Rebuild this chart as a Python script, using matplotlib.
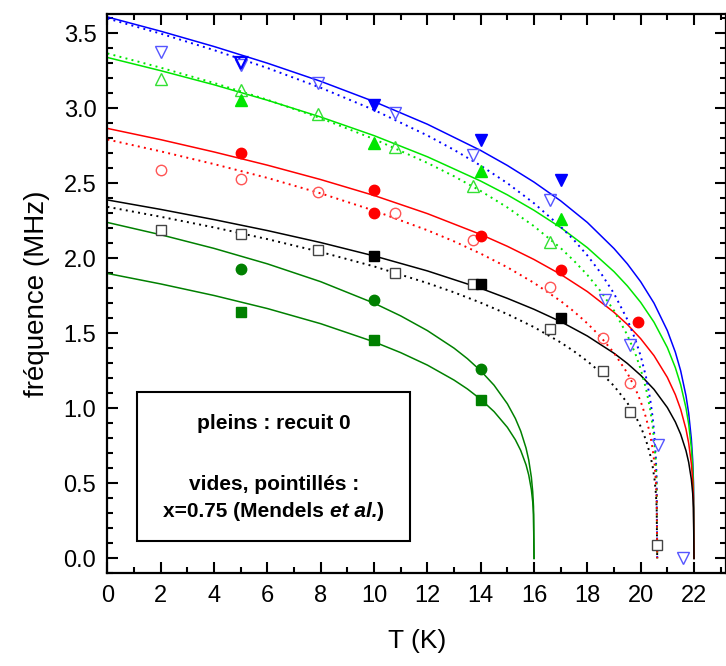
import numpy as np
import matplotlib.pyplot as plt
from matplotlib.patches import Rectangle
from matplotlib.ticker import MultipleLocator

plt.rcParams['font.family'] = ['Liberation Sans', 'DejaVu Sans']

# couleurs
c_blue = '#0000ff'
c_lime = '#00e600'
c_red = '#ff0000'
c_black = '#000000'
c_dkgreen = '#008000'

# ---- points "recuit 0" (pleins) ----
T_blue_r0 = [5, 10, 14, 17]
f_blue_r0 = [3.30, 3.02, 2.79, 2.52]
T_lime_r0 = [5, 10, 14, 17]
f_lime_r0 = [3.055, 2.77, 2.58, 2.26]
T_red_r0 = [5, 10, 10, 14, 17, 19.9]
f_red_r0 = [2.70, 2.455, 2.30, 2.15, 1.92, 1.575]
T_black_r0 = [10, 14, 17]
f_black_r0 = [2.015, 1.83, 1.604]
T_dkg_circ = [5, 10, 14]
f_dkg_circ = [1.93, 1.72, 1.26]
T_dkg_sq = [5, 10, 14]
f_dkg_sq = [1.64, 1.455, 1.055]

# ---- points Mendels et al. x=0.75 (vides) ----
T_blue_m = [2, 5, 7.9, 10.8, 13.7, 16.6, 18.65, 19.6, 20.65, 21.6]
f_blue_m = [3.375, 3.29, 3.17, 2.97, 2.69, 2.39, 1.72, 1.42, 0.755, 0.0]
T_lime_m = [2, 5, 7.9, 10.8, 13.7, 16.6]
f_lime_m = [3.195, 3.12, 2.96, 2.74, 2.48, 2.11]
T_red_m = [2, 5, 7.9, 10.8, 13.7, 16.6, 18.6, 19.6]
f_red_m = [2.59, 2.533, 2.444, 2.30, 2.12, 1.81, 1.467, 1.167]
T_black_m = [2, 5, 7.9, 10.8, 13.7, 16.6, 18.6, 19.6, 20.6]
f_black_m = [2.19, 2.165, 2.055, 1.90, 1.83, 1.527, 1.25, 0.977, 0.089]

# ---- courbes d'ajustement recuit 0 (traits pleins), Tc = 22 K ----
T_fit22 = [0, 2, 4, 6, 8, 10, 12, 14, 15, 16, 17, 18, 19, 19.5, 20, 20.5, 21,
           21.3, 21.5, 21.7, 21.8, 21.9, 21.95, 21.98, 22]
f_blue_fit = [3.610, 3.515, 3.413, 3.302, 3.181, 3.046, 2.895, 2.720, 2.620, 2.509, 2.384, 2.240, 2.066,
              1.964, 1.845, 1.702, 1.519, 1.375, 1.251, 1.084, 0.968, 0.797, 0.657, 0.508, 0.0]
f_lime_fit = [3.340, 3.252, 3.158, 3.055, 2.943, 2.819, 2.678, 2.516, 2.424, 2.321, 2.206, 2.072, 1.912,
              1.817, 1.707, 1.575, 1.406, 1.272, 1.158, 1.003, 0.896, 0.738, 0.608, 0.470, 0.0]
f_red_fit = [2.867, 2.792, 2.710, 2.622, 2.526, 2.420, 2.299, 2.160, 2.081, 1.993, 1.894, 1.779, 1.641,
             1.560, 1.465, 1.352, 1.207, 1.092, 0.994, 0.861, 0.769, 0.633, 0.522, 0.404, 0.0]
f_black_fit = [2.390, 2.327, 2.259, 2.186, 2.106, 2.017, 1.917, 1.801, 1.734, 1.661, 1.579, 1.483, 1.368,
               1.300, 1.221, 1.127, 1.006, 0.910, 0.828, 0.718, 0.641, 0.528, 0.435, 0.336, 0.0]

# Tc = 16 K (vert foncé)
T_fit16 = [0, 2, 4, 6, 8, 10, 11, 12, 13, 13.5, 14, 14.5, 15, 15.3, 15.5, 15.7, 15.8, 15.9, 15.95, 15.98, 16]
f_dkg1_fit = [2.240, 2.158, 2.067, 1.964, 1.845, 1.702, 1.617, 1.519, 1.402, 1.332, 1.251, 1.155, 1.031,
              0.933, 0.849, 0.736, 0.657, 0.541, 0.445, 0.345, 0.0]
f_dkg2_fit = [1.900, 1.830, 1.753, 1.666, 1.565, 1.444, 1.372, 1.289, 1.189, 1.130, 1.061, 0.979, 0.874,
              0.791, 0.720, 0.624, 0.557, 0.459, 0.378, 0.292, 0.0]

# ---- courbes Mendels (pointillés), Tc = 20.6 K ----
T_dot = [0, 2, 4, 6, 8, 10, 12, 13, 14, 15, 16, 17, 17.5, 18, 18.5, 19, 19.5, 19.8, 20.0,
         20.2, 20.35, 20.45, 20.52, 20.57, 20.6, 20.62]
f_blue_dot = [3.600, 3.499, 3.389, 3.270, 3.138, 2.990, 2.820, 2.724, 2.619, 2.502, 2.368, 2.212, 2.122,
              2.020, 1.904, 1.766, 1.593, 1.459, 1.350, 1.210, 1.069, 0.939, 0.810, 0.667, 0.516, 0.0]
f_lime_dot = [3.367, 3.272, 3.170, 3.058, 2.935, 2.796, 2.637, 2.548, 2.450, 2.340, 2.215, 2.069, 1.984,
              1.890, 1.781, 1.652, 1.489, 1.365, 1.262, 1.132, 1.000, 0.879, 0.757, 0.624, 0.483, 0.0]
f_red_dot = [2.793, 2.714, 2.629, 2.537, 2.434, 2.319, 2.188, 2.114, 2.032, 1.941, 1.837, 1.716, 1.646,
             1.567, 1.477, 1.370, 1.236, 1.132, 1.047, 0.939, 0.830, 0.729, 0.628, 0.517, 0.400, 0.0]
f_black_dot = [2.344, 2.278, 2.207, 2.129, 2.043, 1.947, 1.836, 1.774, 1.705, 1.629, 1.542, 1.440, 1.381,
               1.315, 1.240, 1.150, 1.037, 0.950, 0.879, 0.788, 0.696, 0.612, 0.527, 0.434, 0.336, 0.0]

fig = plt.figure(figsize=(7.26, 6.66), dpi=100)
ax = fig.add_axes([0.148, 0.139, 0.852, 0.840])

# traits pleins
for T, f, c in [(T_fit22, f_blue_fit, c_blue), (T_fit22, f_lime_fit, c_lime),
                (T_fit22, f_red_fit, c_red), (T_fit22, f_black_fit, c_black),
                (T_fit16, f_dkg1_fit, c_dkgreen), (T_fit16, f_dkg2_fit, c_dkgreen)]:
    ax.plot(T, f, '-', color=c, lw=1.1, zorder=2)

# pointillés
dot = (0, (1, 2.2))
for f, c in [(f_blue_dot, c_blue), (f_lime_dot, c_lime), (f_red_dot, c_red), (f_black_dot, c_black)]:
    ax.plot(T_dot, f, linestyle=dot, color=c, lw=1.4, zorder=2)

# symboles vides (Mendels)
ax.plot(T_blue_m, f_blue_m, 'v', ms=8.5, mfc='none', mec='#5555ff', mew=1.0, ls='none', zorder=3)
ax.plot(T_lime_m, f_lime_m, '^', ms=8.5, mfc='none', mec='#33e033', mew=1.0, ls='none', zorder=3)
ax.plot(T_red_m, f_red_m, 'o', ms=7.5, mfc='none', mec='#ff5555', mew=1.0, ls='none', zorder=3)
ax.plot(T_black_m, f_black_m, 's', ms=6.5, mfc='white', mec='#444444', mew=1.0, ls='none', zorder=3)

# symboles pleins (recuit 0)
ax.plot(T_blue_r0[:1], f_blue_r0[:1], 'v', ms=8.5, mfc='none', mec=c_blue, mew=1.6, ls='none', zorder=4)
ax.plot(T_blue_r0[1:], f_blue_r0[1:], 'v', ms=8.5, color=c_blue, ls='none', zorder=4)
ax.plot(T_lime_r0, f_lime_r0, '^', ms=8.5, color=c_lime, ls='none', zorder=4)
ax.plot(T_red_r0, f_red_r0, 'o', ms=7.5, color=c_red, ls='none', zorder=4)
ax.plot(T_black_r0, f_black_r0, 's', ms=6.5, color=c_black, ls='none', zorder=4)
ax.plot(T_dkg_circ, f_dkg_circ, 'o', ms=7.5, color=c_dkgreen, ls='none', zorder=4)
ax.plot(T_dkg_sq, f_dkg_sq, 's', ms=6.5, color=c_dkgreen, ls='none', zorder=4)

ax.set_xlim(0, 23.2)
ax.set_ylim(-0.1, 3.63)
ax.xaxis.set_major_locator(MultipleLocator(2))
ax.xaxis.set_minor_locator(MultipleLocator(1))
ax.yaxis.set_major_locator(MultipleLocator(0.5))
ax.yaxis.set_minor_locator(MultipleLocator(0.1))
ax.yaxis.set_major_formatter(plt.FuncFormatter(lambda v, p: f'{v:.1f}'))
ax.tick_params(which='both', direction='in', top=True, right=True, labelsize=17, width=1.5)
ax.tick_params(which='major', length=8, pad=8)
ax.tick_params(which='minor', length=4)
for s in ax.spines.values():
    s.set_linewidth(1.6)

ax.set_xlabel('T (K)', fontsize=19, labelpad=16)
ax.set_ylabel('fréquence (MHz)', fontsize=20, labelpad=10)

# cadre de légende
ax.add_patch(Rectangle((1.125, 0.117), 10.225, 0.993, fill=False, lw=1.5, ec='black', zorder=5))
xc = (1.125 + 11.35) / 2
fs = 15
ax.text(xc, 0.90, 'pleins : recuit 0', ha='center', va='center', fontsize=fs, weight='bold', zorder=6)
ax.text(xc, 0.49, 'vides, pointillés :', ha='center', va='center', fontsize=fs, weight='bold', zorder=6)

parts = [('x=0.75 (Mendels ', 'normal'), ('et al.', 'italic'), (')', 'normal')]
texts = [ax.text(0, 0.31, s, ha='left', va='center', fontsize=fs, weight='bold', style=st, zorder=6)
         for s, st in parts]
fig.canvas.draw()
r = fig.canvas.get_renderer()
inv = ax.transData.inverted()
widths = []
for t in texts:
    bb = t.get_window_extent(r)
    widths.append(inv.transform((bb.x1, 0))[0] - inv.transform((bb.x0, 0))[0])
x = xc - sum(widths) / 2
for t, w in zip(texts, widths):
    t.set_x(x)
    x += w

fig.savefig('out.png', dpi=100)
